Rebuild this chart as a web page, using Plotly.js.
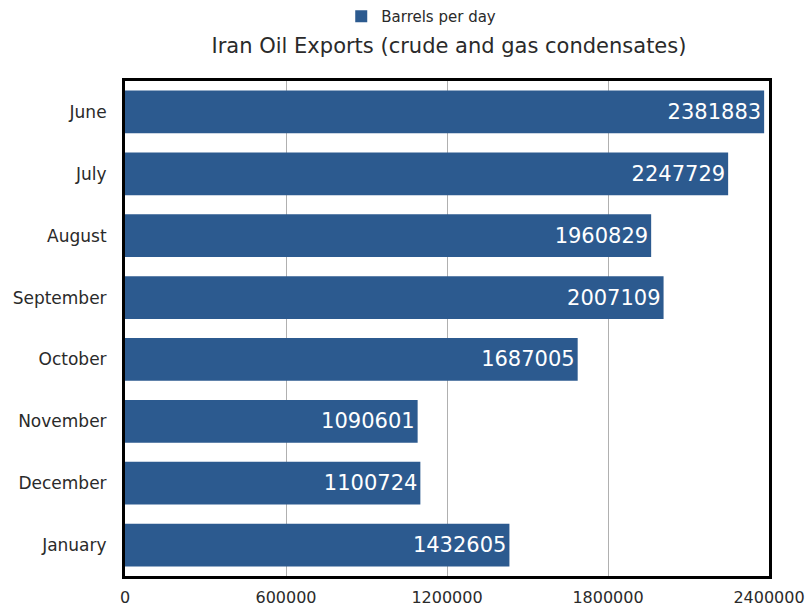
<!DOCTYPE html>
<html>
<head>
<meta charset="utf-8">
<script src="https://cdn.plot.ly/plotly-3.0.1.min.js"></script>
<style>html,body{margin:0;padding:0;background:#fff;}#chart{width:809px;height:610px;}</style>
</head>
<body>
<div id="chart"></div>
<script>
const months = ["January", "December", "November", "October", "September", "August", "July", "June"];
const barrelsPerDay = [1432605, 1100724, 1090601, 1687005, 2007109, 1960829, 2247729, 2381883];
const tickValues = [0, 600000, 1200000, 1800000, 2400000];
const tickLabels = ["0", "600000", "1200000", "1800000", "2400000"];

const FONT = "DejaVu Sans, Verdana, sans-serif";

const trace = {
  type: "bar",
  orientation: "h",
  y: months,
  x: barrelsPerDay,
  name: "Barrels per day",
  marker: {color: "#2c5a8f"},
  text: barrelsPerDay.map(String),
  textposition: "inside",
  insidetextanchor: "end",
  constraintext: "none",
  textfont: {color: "#ffffff", size: 21, family: FONT},
  hoverinfo: "none"
};

const layout = {
  width: 809,
  height: 610,
  margin: {l: 125, r: 40, t: 81, b: 34},
  paper_bgcolor: "#ffffff",
  plot_bgcolor: "#ffffff",
  font: {family: FONT, color: "#2a2a2a"},
  title: {
    text: "Iran Oil Exports (crude and gas condensates)",
    font: {size: 21, color: "#2a2a2a", family: FONT},
    x: 0.555, xanchor: "center", y: 0.925, yanchor: "middle"
  },
  showlegend: true,
  legend: {
    orientation: "h", x: 0.46, xanchor: "center", y: 1, yref: "container", yanchor: "top",
    font: {size: 15, color: "#2a2a2a", family: FONT}
  },
  bargap: 0.31,
  xaxis: {
    range: [0, 2400000],
    tickvals: tickValues,
    ticktext: tickLabels,
    showgrid: true,
    gridcolor: "#b0b0b0",
    gridwidth: 1,
    zeroline: false,
    showline: true,
    linecolor: "#000000",
    linewidth: 3,
    mirror: true,
    ticks: "",
    ticklabelstandoff: 5,
    tickfont: {size: 16, color: "#2a2a2a"},
    fixedrange: true
  },
  yaxis: {
    showgrid: false,
    zeroline: false,
    showline: true,
    linecolor: "#000000",
    linewidth: 3,
    mirror: true,
    ticks: "",
    ticklabelstandoff: 12,
    tickfont: {size: 17, color: "#2a2a2a"},
    fixedrange: true
  }
};

Plotly.newPlot("chart", [trace], layout, {displayModeBar: false, staticPlot: true});
</script>
</body>
</html>
